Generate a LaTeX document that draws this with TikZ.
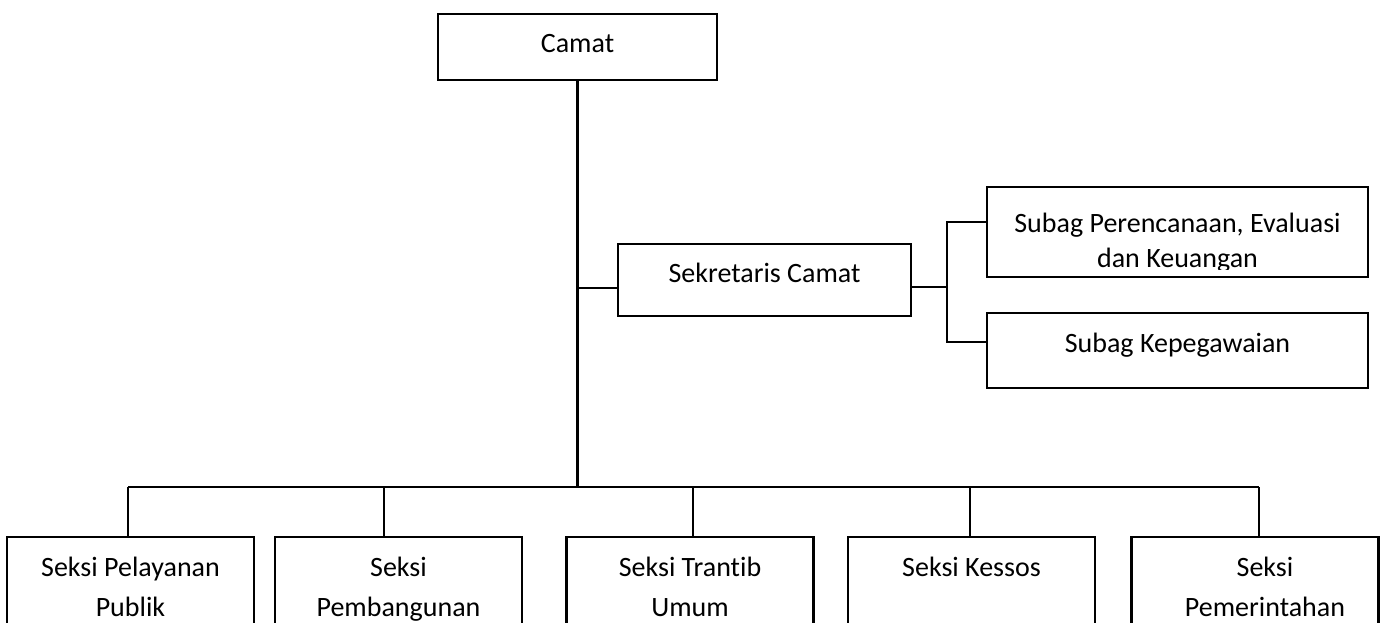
\documentclass[tikz,border=0pt]{standalone}
\usepackage{fontspec}
\setmainfont{Carlito}[Ligatures=NoCommon]

\newcommand*{\busY}{487}
\newcommand*{\secW}{247pt}

\begin{document}
\begin{tikzpicture}
[
	x=1pt,y=-1pt,
	unit/.style={draw,line width=2.3pt,inner sep=0pt},
	lbl/.style={inner sep=0pt,anchor=base,font=\fontsize{28}{40}\selectfont},
	link/.style={line width=2.3pt},
	bus/.style={line width=1.5pt}
]
	\useasboundingbox (0,0) rectangle (1385,623);

	% top
	\node[unit,minimum width=279pt,minimum height=66pt] (camat) at (577.5,47) {};
	\node[lbl] (camatT) at (577.5,52.5) {Camat};

	% secretary and sub sections
	\node[unit,minimum width=293pt,minimum height=72pt] (sekcam) at (764.5,280) {};
	\node[lbl] (sekcamT) at (764.5,282) {Sekretaris Camat};

	\node[unit,minimum width=381pt,minimum height=90pt] (subren) at (1177.5,232) {};
	\begin{scope}
		\clip (subren.north west) rectangle ([yshift=9pt]subren.south east);
		\node[lbl,text width=381pt,align=flush center,font=\fontsize{28}{35}\selectfont] (subrenT) at (1177.5,233) {Subag Perencanaan, Evaluasi\\dan Keuangan};
	\end{scope}
	\node[unit,minimum width=381pt,minimum height=75pt] (subpeg) at (1177.5,350.5) {};
	\node[lbl] (subpegT) at (1177.5,352.5) {Subag Kepegawaian};

	% sections
	\node[unit,minimum width=\secW,minimum height=120pt] (pelpub) at (130.5,597) {};
	\node[unit,minimum width=\secW,minimum height=120pt] (pemb) at (398.5,597) {};
	\node[unit,minimum width=\secW,minimum height=120pt] (trantib) at (690,597) {};
	\node[unit,minimum width=\secW,minimum height=120pt] (kessos) at (971.5,597) {};
	\node[unit,minimum width=\secW,minimum height=120pt] (pemer) at (1255,597) {};

	\node[lbl,text width=\secW,align=flush center] (pelpubT) at (130.5,576) {Seksi Pelayanan\\Publik};
	\node[lbl,text width=\secW,align=flush center] (pembT) at (398.5,576) {Seksi\\Pembangunan};
	\node[lbl,text width=\secW,align=flush center] (trantibT) at (690,576) {Seksi Trantib\\Umum};
	\node[lbl] (kessosT) at (971.5,576) {Seksi Kessos};
	\node[lbl,text width=\secW,align=flush center] (pemerT) at (1265,576) {Seksi\\Pemerintahan};

	% lines
	\coordinate (busA) at (128,\busY);
	\coordinate (busB) at (384,\busY);
	\coordinate (busC) at (693,\busY);
	\coordinate (busD) at (970,\busY);
	\coordinate (busE) at (1259,\busY);
	\coordinate (sekin) at (578,288);
	\coordinate (fork) at (947,287);
	\coordinate (forkA) at (947,222);
	\coordinate (forkB) at (947,342);

	\draw[link] (camat.south) -- (camat.south |- busA);
	\draw[bus] (busA) -- (busE);
	\draw[link] (busA) -- (busA |- pelpub.north);
	\draw[link] (busB) -- (busB |- pemb.north);
	\draw[link] (busC) -- (busC |- trantib.north);
	\draw[link] (busD) -- (busD |- kessos.north);
	\draw[link] (busE) -- (busE |- pemer.north);

	\draw[link] (sekin) -- (sekin -| sekcam.west);
	\draw[link] (sekcam.east |- fork) -- (fork);
	\draw[link] (subren.west |- forkA) -- (forkA) -- (forkB) -- (subpeg.west |- forkB);

\end{tikzpicture}
\end{document}
